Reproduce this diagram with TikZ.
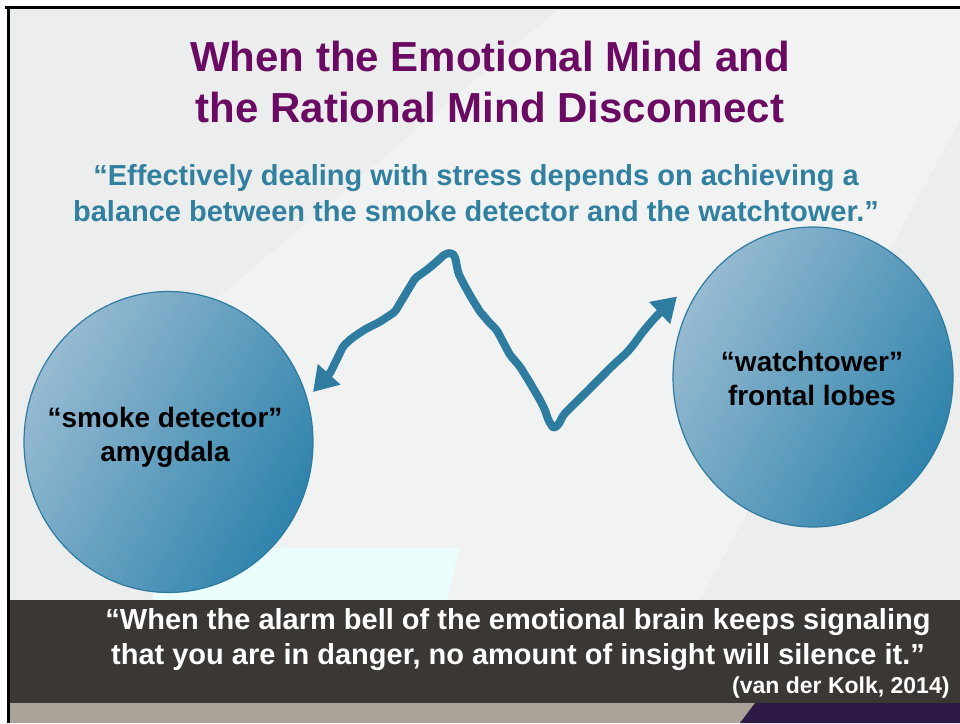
\documentclass[tikz,border=0pt]{standalone}
\usepackage{fontspec}
\setmainfont{Liberation Sans}
\usetikzlibrary{arrows.meta,shapes.geometric}
\definecolor{titlepurple}{HTML}{6A0A62}
\definecolor{quoteteal}{HTML}{31809F}
\definecolor{arrowteal}{HTML}{2E7DA0}
\definecolor{lobelight}{HTML}{97BBD2}
\definecolor{lobedark}{HTML}{2F83AC}
\definecolor{lobeedge}{HTML}{2E7BA0}
\definecolor{slidegray}{HTML}{ECEDED}
\definecolor{facetlight}{HTML}{F1F2F2}
\definecolor{facetcyan}{HTML}{EAFEFE}
\definecolor{barbrown}{HTML}{3B3734}
\definecolor{striptan}{HTML}{A9A298}
\definecolor{strippurple}{HTML}{2E1A46}
\tikzset{
  lobe/.style={ellipse,draw=lobeedge,line width=1.2pt,top color=lobelight,bottom color=lobedark,shading angle=60,inner sep=0pt},
  lobetext/.style={align=center,font=\fontsize{28}{34}\selectfont\bfseries},
  headline/.style={align=center,text=titlepurple,font=\fontsize{42}{51}\selectfont\bfseries},
  quoteline/.style={align=center,text=quoteteal,font=\fontsize{29}{36}\selectfont\bfseries},
  barquote/.style={align=center,text=white,font=\fontsize{29}{35}\selectfont\bfseries},
  zig/.style={draw=arrowteal,line width=8pt,line join=round,rounded corners=2pt,
    {Triangle[length=24pt,width=29pt]}-{Triangle[length=24pt,width=29pt]}}
}
\begin{document}
\begin{tikzpicture}[x=1pt,y=-1pt]
  \useasboundingbox (0,0) rectangle (960,723);
  % slide background
  \fill[white] (0,0) rectangle (960,723);
  \fill[slidegray] (8,8) rectangle (960,600);
  \fill[facetlight] (250,600) -- (180,330) -- (560,8) -- (960,8) -- (960,120) -- (700,600) -- cycle;
  \fill[facetcyan] (153,548) -- (459,548) -- (447,600) -- (153,600) -- cycle;
  \fill[barbrown] (8,600) rectangle (960,703);
  \fill[striptan] (8,703) rectangle (960,723);
  \fill[strippurple] (755,703) -- (960,703) -- (960,723) -- (740,723) -- cycle;
  \draw[line width=3pt] (5,7.5) -- (960,7.5);
  \draw[line width=3pt] (8.5,6) -- (8.5,723);

  \node[headline] (title) at (490,82) {When the Emotional Mind and\\the Rational Mind Disconnect};
  \node[quoteline] (balance) at (476,193) {“Effectively dealing with stress depends on achieving a\\balance between the smoke detector and the watchtower.”};

  \node[lobe,minimum width=289pt,minimum height=301pt] (smoke) at (168.5,442) {};
  \node[lobe,minimum width=280pt,minimum height=300pt] (tower) at (813,377) {};
  \node[lobetext] (smoketext) at (165,437) {“smoke detector”\\amygdala};
  \node[lobetext] (towertext) at (812,378) {“watchtower”\\frontal lobes};

  \coordinate (tipL) at (313,392);
  \coordinate (tipR) at (677,296.5);
  \draw[zig] (tipL) -- (330,373.3) -- (343.3,346) -- (351.7,338.3) -- (365,329.3)
    -- (380,321.7) -- (391.7,314) -- (395,311.7) -- (400,303.3) -- (415,278.3)
    -- (426.7,270) -- (436.7,261.7) -- (445,254) -- (451.7,252.7) -- (455,256.7)
    -- (458.3,273.3) -- (463.3,283.3) -- (471.7,298.3) -- (480,311.7) -- (490,323.3)
    -- (496.7,330) -- (510,355) -- (520,366.7) -- (528.3,380) -- (540,400)
    -- (545,410) -- (548.3,420) -- (553.3,428.3) -- (558.3,425) -- (563.3,415)
    -- (573.3,405) -- (586.7,391.7) -- (613.3,365) -- (626.7,352.7) -- (633.3,345)
    -- (641.7,333.3) -- (650,323.3) -- (656,316.5) -- (tipR);

  \node[barquote] (alarm) at (518,640) {“When the alarm bell of the emotional brain keeps signaling\\that you are in danger, no amount of insight will silence it.”};
  \node[anchor=east,text=white,font=\fontsize{23}{27}\selectfont\bfseries] (cite) at (953,688) {(van der Kolk, 2014)};
\end{tikzpicture}
\end{document}
